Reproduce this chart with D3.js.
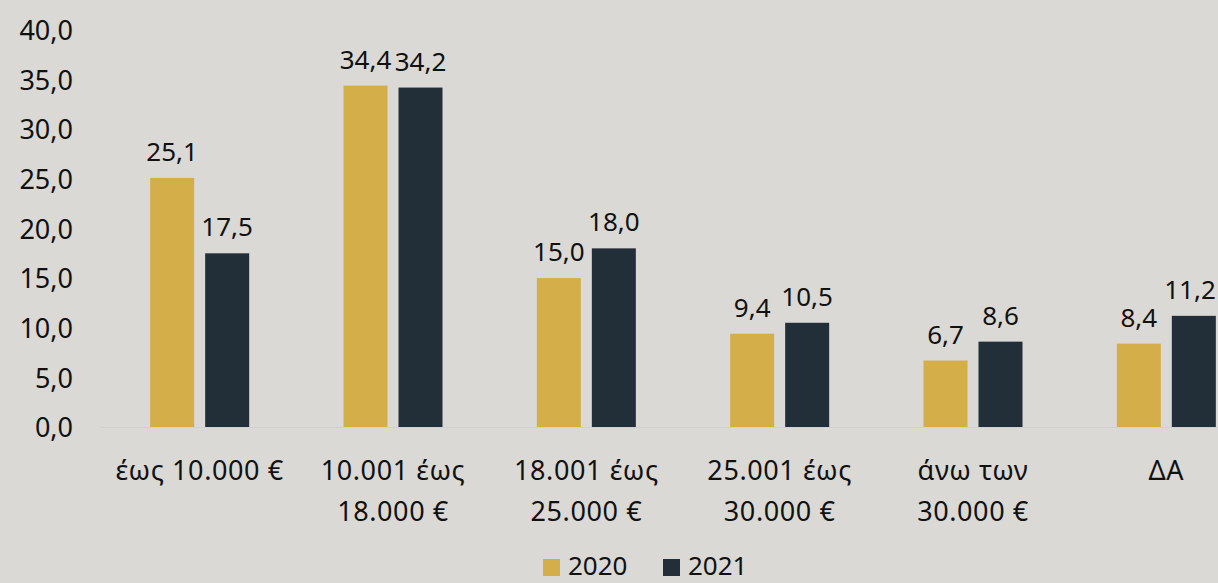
<!DOCTYPE html>
<html><head><meta charset="utf-8">
<script src="https://cdn.jsdelivr.net/npm/d3@7"></script>
<style>
html,body{margin:0;padding:0;background:#dad9d5;}
svg{display:block;font-family:"Noto Sans",sans-serif;}
</style></head>
<body><svg id="c" width="1218" height="583"></svg>
<script>
const categories = [["έως 10.000 €"],["10.001 έως","18.000 €"],["18.001 έως","25.000 €"],["25.001 έως","30.000 €"],["άνω των","30.000 €"],["ΔΑ"]];
const series = ["2020","2021"];
const values2020 = [25.1, 34.4, 15.0, 9.4, 6.7, 8.4];
const values2021 = [17.5, 34.2, 18.0, 10.5, 8.6, 11.2];
const yTicks = [0,5,10,15,20,25,30,35,40];
const colors = ["#d4ae48","#222f38"];

const svg = d3.select("#c");
const fmt = v => v.toFixed(1).replace(".", ",");
const x = d3.scaleBand().domain(d3.range(categories.length)).range([103, 1263]).paddingInner(0).paddingOuter(0);
const xs = d3.scaleBand().domain(series).range([x.bandwidth()/2 - 49.5, x.bandwidth()/2 + 49.5]).paddingInner(0.2);
const y = d3.scaleLinear().domain([0, 40]).range([427, 30]);
const FS = 27;

// baseline
svg.append("line").attr("x1", 100).attr("x2", 1218).attr("y1", y(0)+0.5).attr("y2", y(0)+0.5)
  .attr("stroke", "#cfd0d2").attr("stroke-width", 1);

// y axis
const yAxis = d3.axisLeft(y).tickValues(yTicks).tickFormat(fmt).tickSize(0).tickPadding(0);
const ya = svg.append("g").attr("transform", "translate(73,0)").call(yAxis);
ya.select(".domain").remove();
ya.selectAll("text").attr("font-size", FS).attr("fill", "#111").attr("font-family", "Noto Sans").attr("dy", "0.36em");

const data = [values2020, values2021];
series.forEach((s, si) => {
  const g = svg.append("g");
  g.selectAll("rect").data(data[si]).join("rect")
    .attr("x", (d, i) => x(i) + xs(s))
    .attr("width", xs.bandwidth())
    .attr("y", d => y(d))
    .attr("height", d => y(0) - y(d))
    .attr("fill", colors[si]);
  g.selectAll("text").data(data[si]).join("text")
    .attr("x", (d, i) => Math.min(x(i) + xs(s) + xs.bandwidth()/2, 1190))
    .attr("y", d => y(d) - 17)
    .attr("text-anchor", "middle")
    .attr("font-size", 26).attr("fill", "#111")
    .text(fmt);
});

// x labels
const xl = svg.append("g");
categories.forEach((lines, i) => {
  const t = xl.append("text").attr("text-anchor", "middle").attr("font-size", FS).attr("fill", "#111").attr("letter-spacing", 0.6);
  lines.forEach((l, li) => {
    t.append("tspan").attr("x", x(i) + x.bandwidth()/2).attr("y", 480 + li*41).text(l);
  });
});

// legend
const lg = svg.append("g");
const lx = [543, 663];
series.forEach((s, si) => {
  lg.append("rect").attr("x", lx[si]).attr("y", 559).attr("width", 17).attr("height", 17).attr("fill", colors[si]);
  lg.append("text").attr("x", lx[si] + 25).attr("y", 575).attr("font-size", 26).attr("fill", "#111").text(s);
});
</script></body></html>
